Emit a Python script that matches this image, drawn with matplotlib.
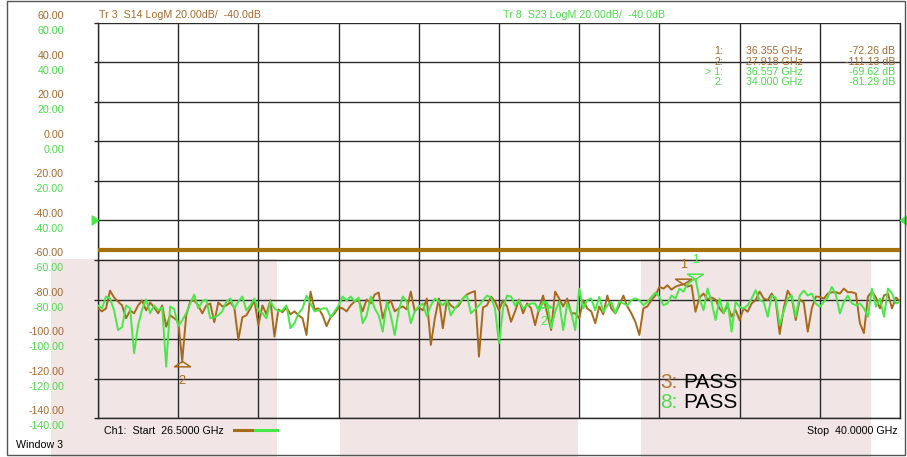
import numpy as np
import matplotlib.pyplot as plt
from matplotlib.lines import Line2D
from matplotlib.patches import Rectangle
from matplotlib.transforms import blended_transform_factory

plt.rcParams['font.family'] = ['Liberation Sans', 'DejaVu Sans']

# ---- data ----
f_start, f_stop = 26.5, 40.0
n_points = 201

s14_db = [
    -84.5, -86, -84.5, -75.5, -79, -81, -83, -89.5, -85.5, -87,
    -83, -80.5, -85.5, -81.5, -84, -87, -83, -93.8, -88, -89.5,
    -91, -111.13, -88, -81, -80.5, -83, -87, -83, -82, -91.5,
    -81.5, -83.5, -83, -81.5, -84, -100.5, -89, -88, -84.5, -80.5,
    -93, -83, -87.5, -80.3, -98.8, -85, -86.5, -84, -87.5, -86,
    -88, -89.5, -98, -76, -85, -84.5, -88, -93.5, -89, -87,
    -84, -84.5, -86, -83, -81, -80.5, -86, -80, -82, -77.5,
    -76.5, -89.6, -83, -80.5, -86, -84.5, -83.5, -85, -76, -86,
    -84, -85.5, -79.5, -103, -89.6, -79.5, -94.6, -80.5, -83, -84.5,
    -83, -79.5, -77.5, -76.5, -75.8, -108.9, -84, -83, -78.5, -81,
    -85.5, -80.5, -83.5, -91.3, -86, -80, -87, -82, -84.5, -93,
    -84.5, -78, -87, -95.5, -76, -79.5, -83.5, -79.5, -87, -87,
    -89.5, -80.5, -84.5, -86, -92, -83.5, -87.5, -78, -84.5, -87,
    -83, -78, -83.5, -87, -91.3, -98, -84.5, -83.5, -80.3, -78,
    -73.6, -74.5, -72.8, -75, -73.5, -72.8, -72.26, -73.5, -72.8, -86.2,
    -79, -77, -80, -79, -80, -84.5, -87, -83, -88.7, -85.4,
    -90.4, -84.5, -86.2, -82, -80.3, -76, -79.5, -80.3, -77, -80.5,
    -97.5, -84.5, -75.5, -79, -90.4, -80, -81.5, -96.3, -84.5, -78.5,
    -78.7, -79.5, -77, -76.3, -76.3, -77, -74.5, -76.3, -76.3, -77,
    -92, -97, -78.5, -76, -79, -84.5, -78, -77, -84.5, -79,
    -81,
]

s23_db = [
    -83, -84.5, -78.5, -79.5, -85.5, -95.5, -94, -83, -84.5, -107.2,
    -93, -85, -80, -87, -83, -85.5, -84, -114, -83.5, -85,
    -93.5, -90.5, -87, -82, -77.5, -84.5, -81, -80, -89.5, -89,
    -88, -86, -81, -79.5, -84.5, -81, -78.5, -85.5, -83, -79.5,
    -85.5, -87, -89.5, -81, -84.5, -86, -85.5, -83, -94.5, -92,
    -87, -84.5, -78, -82, -86, -85.5, -84.5, -84.5, -89, -86,
    -83, -78.5, -80.5, -78.5, -81, -79, -92, -88, -78.5, -84.5,
    -88, -96.3, -81, -88, -98, -85.5, -78.5, -81, -92, -86,
    -83.5, -82, -88.5, -83, -79.5, -81, -83, -80.5, -88, -84.5,
    -82, -79.5, -78, -87, -85, -83, -80.5, -78, -79, -84.5,
    -102.2, -84.5, -78, -78.5, -83, -80.3, -84.5, -83, -82, -82,
    -86, -81.2, -81.5, -94.5, -86, -81, -95.5, -82, -86.5, -95.5,
    -74.5, -84.5, -80.3, -79.5, -85.5, -78.7, -86.2, -83, -81.2, -87,
    -81, -82, -83, -80.3, -79.5, -80.3, -82.9, -81.2, -78.7, -76.5,
    -78.7, -82.9, -82, -78, -79.5, -74.5, -76, -72.3, -70.5, -69.62,
    -79.5, -85.4, -74.5, -81.2, -90.4, -79.5, -87, -81.2, -96.3, -81.2,
    -83.7, -84.5, -82.9, -79.5, -75.3, -80.3, -81.2, -88.7, -78, -79,
    -93, -86, -79.5, -78, -88.7, -78, -75.5, -78, -77, -82,
    -83.7, -81.2, -78.7, -73.6, -77.5, -87.1, -81.2, -78, -82, -82.9,
    -82, -84.5, -88.7, -74.5, -83.7, -79.5, -88.7, -74.5, -77, -82,
    -81.2,
]

limit_db = -55
ref_db = -40
db_ticks = [60, 40, 20, 0, -20, -40, -60, -80, -100, -120, -140]

# markers: (freq GHz, dB)
s14_markers = [(36.355, -72.26), (27.918, -111.13)]
s23_markers = [(36.557, -69.62), (34.000, -81.29)]

# shaded limit-test bands (GHz)
pink_bands = [(25.71, 29.51), (30.57, 34.58), (35.64, 39.51)]

BROWN = '#a66a1c'
BROWN_TXT = '#a46a2e'
GREEN = '#48e848'
GREEN_TXT = '#4ddc4d'
PINK = '#f2e5e5'
GRID = '#2a2a2a'

W, H = 907, 457
fig = plt.figure(figsize=(W / 100, H / 100), dpi=100)


def fx(x):
    return x / W


def fy(y):
    return 1 - y / H


ax = fig.add_axes([fx(98), fy(418), 802 / W, 395 / H])
ax.set_facecolor('none')
ax.set_xlim(f_start, f_stop)
ax.set_ylim(-140, 60)
ax.set_xticks(np.linspace(f_start, f_stop, 11))
ax.set_yticks(db_ticks)
ax.set_axisbelow(True)
ax.grid(True, color=GRID, lw=1)
ax.tick_params(axis='x', length=0, labelbottom=False)
ax.tick_params(axis='y', length=3, width=1, color=GRID, labelleft=False)
ax.spines['top'].set_visible(False)
for s in ('left', 'right', 'bottom'):
    ax.spines[s].set_color(GRID)
    ax.spines[s].set_linewidth(1)

# pink bands run from the -60 dB line down to the window edge
bt = blended_transform_factory(ax.transData, fig.transFigure)
for x0, x1 in pink_bands:
    fig.add_artist(Rectangle((x0, 0), x1 - x0, fy(259), transform=bt,
                             facecolor=PINK, edgecolor='none', zorder=-5))

# window frame
fig.add_artist(Rectangle((fx(7), fy(455)), fx(905) - fx(7), fy(1) - fy(455),
                         transform=fig.transFigure, fill=False,
                         edgecolor='#555555', lw=1, zorder=5))

freq = np.linspace(f_start, f_stop, n_points)
ax.axhline(limit_db, color='#a5700e', lw=3, zorder=3)
ax.plot(freq, s14_db, color=BROWN, lw=1.4, zorder=4)
ax.plot(freq, s23_db, color=GREEN, lw=1.4, zorder=4)

# reference level arrows
tri_right = [(0, 0), (-0.7, 0.5), (-0.7, -0.5), (0, 0)]
tri_left = [(0, 0), (0.7, 0.5), (0.7, -0.5), (0, 0)]
ax.plot([f_start], [ref_db], marker=tri_right, ms=9, color=GREEN, clip_on=False, zorder=6)
ax.plot([f_stop], [ref_db], marker=tri_left, ms=9, color=GREEN, clip_on=False, zorder=6)

# trace markers
tri_up = [(0, 0), (-0.75, -0.5), (0.75, -0.5), (0, 0)]
tri_down = [(0, 0), (-0.75, 0.5), (0.75, 0.5), (0, 0)]
for markers, col in ((s14_markers, BROWN), (s23_markers, GREEN)):
    for k, (mf, mdb) in enumerate(markers):
        above = k == 0
        ax.plot([mf], [mdb], marker=tri_down if above else tri_up, ms=11.5,
                mfc='none', mec=col, mew=1.1, ls='none', zorder=6)
        ax.annotate(str(k + 1), (mf, mdb), xytext=(0, 14 if above else -14.5),
                    textcoords='offset points', ha='center', va='center',
                    fontsize=9, color=col)

# y labels, two per grid line
tr = blended_transform_factory(ax.transAxes, ax.transData)
for v in db_ticks:
    ax.annotate('%.2f' % v, (0, v), xycoords=tr, xytext=(-24.5, 5),
                textcoords='offset points', ha='right', va='center',
                fontsize=7.7, color=BROWN_TXT, annotation_clip=False)
    ax.annotate('%.2f' % v, (0, v), xycoords=tr, xytext=(-24.5, -6),
                textcoords='offset points', ha='right', va='center',
                fontsize=7.7, color=GREEN_TXT, annotation_clip=False)

fs = 7.7
fig.text(fx(99), fy(15.5), 'Tr 3  S14 LogM 20.00dB/  -40.0dB', fontsize=fs,
         color=BROWN_TXT, va='center')
fig.text(fx(503), fy(15.5), 'Tr 8  S23 LogM 20.00dB/  -40.0dB', fontsize=fs,
         color=GREEN_TXT, va='center')

# marker table
rows = [('1:', s14_markers[0], BROWN_TXT), ('2:', s14_markers[1], BROWN_TXT),
        ('> 1:', s23_markers[0], GREEN_TXT), ('2:', s23_markers[1], GREEN_TXT)]
for r, (lab, (mf, mdb), col) in enumerate(rows):
    y = fy(51.5 + r * 10.1)
    fig.text(fx(723), y, lab, fontsize=fs, color=col, ha='right', va='center')
    fig.text(fx(746), y, '%.3f GHz' % mf, fontsize=fs, color=col, va='center')
    fig.text(fx(895), y, '%.2f dB' % mdb, fontsize=fs, color=col, ha='right', va='center')

# bottom status line
fig.text(fx(104), fy(431), 'Ch1:  Start  26.5000 GHz', fontsize=fs, va='center')
fig.add_artist(Line2D([fx(234), fx(255)], [fy(430)] * 2, color=BROWN, lw=2.2))
fig.add_artist(Line2D([fx(255), fx(277)], [fy(430)] * 2, color=GREEN, lw=2.2))
fig.text(fx(898), fy(431), 'Stop  40.0000 GHz', fontsize=fs, ha='right', va='center')
fig.text(fx(16), fy(445), 'Window 3', fontsize=fs, va='center')

# limit test results
fig.text(fx(660), fy(383), '3:', fontsize=15, color='#b07a3a', va='center')
fig.text(fx(683), fy(383), 'PASS', fontsize=15, color='black', va='center')
fig.text(fx(660), fy(403), '8:', fontsize=15, color=GREEN_TXT, va='center')
fig.text(fx(683), fy(403), 'PASS', fontsize=15, color='black', va='center')

plt.savefig('out.png', dpi=100)
